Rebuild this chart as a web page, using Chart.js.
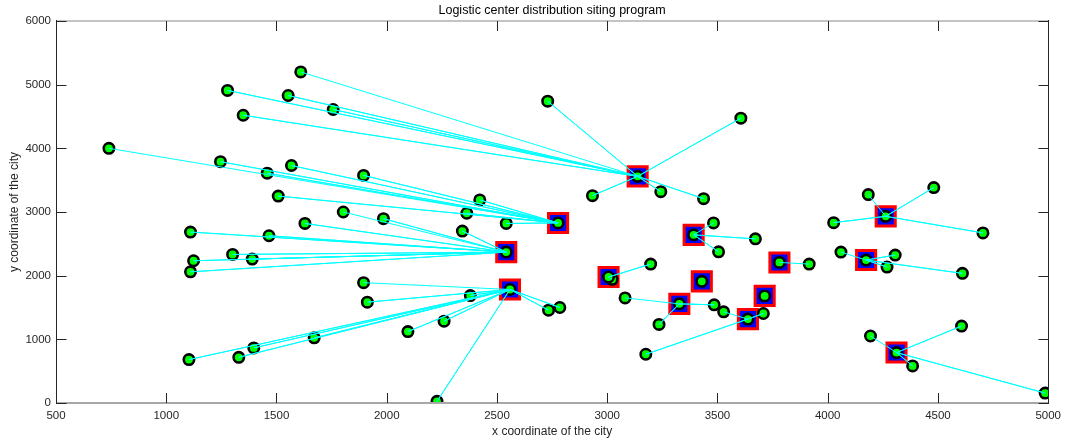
<!DOCTYPE html>
<html>
<head>
<meta charset="utf-8">
<script src="https://cdn.jsdelivr.net/npm/chart.js@4.4.1/dist/chart.umd.min.js"></script>
<style>
  html, body { margin: 0; padding: 0; background: #fff; }
  #wrap { width: 1067px; height: 441px; }
</style>
</head>
<body>
<div id="wrap"><canvas id="myChart" width="1067" height="441"></canvas></div>
<script>
// distribution centers (each one is also a city)
const centerX = [3138, 2777, 2542, 2559, 3392, 3006, 3429, 3781, 4263, 4174, 3714, 3327, 3638, 4312];
const centerY = [3560, 2828, 2370, 1783, 2641, 1979, 1911, 2208, 2932, 2245, 1682, 1557, 1318, 792];

// other cities and the center each one is assigned to
const cityX = [
    1610, 1278, 1553, 1757, 1349, 2730, 3606, 2933, 3243, 3437,
    740, 1246, 1458, 1568, 1895, 1508, 2422, 2363, 2542,
    1803, 1985, 1629, 1110, 1466, 2343, 1301, 1390, 1124, 1110,
    1895, 2379, 1912, 2260, 2096, 1671, 1397, 1329, 1103, 2228, 2734, 2785,
    3482, 3672, 3505,
    3022, 3197,
    3916,
    4184, 4481, 4027, 4704,
    4060, 4306, 4269, 4611,
    3081, 3485, 3235,
    3528, 3708, 3175,
    4194, 4607, 4385, 4986
];
const cityY = [
    5200, 4910, 4830, 4610, 4520, 4740, 4474, 3257, 3320, 3210,
    4000, 3790, 3610, 3730, 3575, 3250, 3190, 2980, 2820,
    3000, 2895, 2820, 2685, 2627, 2700, 2333, 2260, 2234, 2060,
    1890, 1688, 1584, 1285, 1122, 1023, 865, 718, 682, 26, 1458, 1500,
    2828, 2578, 2375,
    1943, 2182,
    2182,
    3273, 3383, 2833, 2672,
    2370, 2323, 2135, 2036,
    1651, 1542, 1234,
    1432, 1406, 766,
    1052, 1208, 583, 156
];
const cityCenter = [
    0, 0, 0, 0, 0, 0, 0, 0, 0, 0,
    1, 1, 1, 1, 1, 1, 1, 1, 1,
    2, 2, 2, 2, 2, 2, 2, 2, 2, 2,
    3, 3, 3, 3, 3, 3, 3, 3, 3, 3, 3, 3,
    4, 4, 4,
    5, 5,
    7,
    8, 8, 8, 8,
    9, 9, 9, 9,
    11, 11, 11,
    12, 12, 12,
    13, 13, 13, 13
];

const xTicks = [500, 1000, 1500, 2000, 2500, 3000, 3500, 4000, 4500, 5000];
const yTicks = [0, 1000, 2000, 3000, 4000, 5000, 6000];

const titleText = 'Logistic center distribution siting program';
const xTitle = 'x coordinate of the city';
const yTitle = 'y coordinate of the city';

const FONT = '"Liberation Sans", Arial, sans-serif';
const TEXT = '#262626';

document.addEventListener('DOMContentLoaded', () => {
    const ctx = document.getElementById('myChart').getContext('2d');

    // one line dataset per center: city, center, city, center ... gives the star
    const lineSets = centerX.map((cx, c) => {
        const pts = [];
        cityCenter.forEach((k, i) => {
            if (k === c) {
                pts.push({ x: cityX[i], y: cityY[i] });
                pts.push({ x: cx, y: centerY[c] });
            }
        });
        return {
            type: 'scatter',
            data: pts,
            showLine: true,
            borderColor: '#00ffff',
            borderWidth: 1,
            pointRadius: 0,
            order: 0
        };
    }).filter(d => d.data.length > 0);

    const allPoints = cityX.map((x, i) => ({ x: x, y: cityY[i] }))
        .concat(centerX.map((x, i) => ({ x: x, y: centerY[i] })));

    const datasets = [
        ...lineSets,
        {
            label: 'cities',
            data: allPoints,
            pointStyle: 'circle',
            pointRadius: 5.2,
            borderWidth: 2.6,
            borderColor: '#000000',
            backgroundColor: '#00ff00',
            order: 1
        },
        {
            label: 'centers',
            data: centerX.map((x, i) => ({ x: x, y: centerY[i] })),
            pointStyle: 'rect',
            pointRadius: 13.5,
            borderWidth: 3,
            borderColor: '#ff0000',
            backgroundColor: '#0000ff',
            order: 2
        }
    ];

    // box around the axes, inward ticks and the text
    const framePlugin = {
        id: 'frame',
        afterDraw(chart) {
            const { ctx, chartArea: a, scales } = chart;
            const L = Math.round(a.left) + 0.5, R = Math.round(a.right) + 0.5;
            const T = Math.round(a.top), B = Math.round(a.bottom);
            ctx.save();
            // top and bottom lines look light and thick
            ctx.fillStyle = '#c4c4c4';
            ctx.fillRect(L, T - 1, R - L, 2);
            ctx.fillStyle = '#a8a8a8';
            ctx.fillRect(L, B - 1, R - L, 2);
            ctx.strokeStyle = TEXT;
            ctx.lineWidth = 1;
            ctx.beginPath();
            ctx.moveTo(L, T - 1); ctx.lineTo(L, B + 1);
            ctx.moveTo(R, T - 1); ctx.lineTo(R, B + 1);
            xTicks.forEach(v => {
                const px = Math.round(scales.x.getPixelForValue(v)) + 0.5;
                ctx.moveTo(px, B); ctx.lineTo(px, B - 10);
                ctx.moveTo(px, T); ctx.lineTo(px, T + 10);
            });
            yTicks.forEach(v => {
                const py = Math.round(scales.y.getPixelForValue(v)) + 0.5;
                ctx.moveTo(L, py); ctx.lineTo(L + 10, py);
                ctx.moveTo(R, py); ctx.lineTo(R - 10, py);
            });
            ctx.stroke();

            ctx.fillStyle = '#000000';
            ctx.font = '12.5px ' + FONT;
            ctx.textAlign = 'center';
            ctx.textBaseline = 'middle';
            ctx.fillText(titleText, (a.left + a.right) / 2, 11);
            ctx.fillStyle = TEXT;
            ctx.font = '12px ' + FONT;
            ctx.fillText(xTitle, (a.left + a.right) / 2, 432);
            ctx.translate(15, (a.top + a.bottom) / 2);
            ctx.rotate(-Math.PI / 2);
            ctx.fillText(yTitle, 0, 0);
            ctx.restore();
        }
    };

    const tickFont = { family: FONT, size: 11.5 };

    const options = {
        responsive: false,
        animation: false,
        layout: { padding: { left: 0, top: 21, right: 15, bottom: 0 } },
        plugins: {
            legend: { display: false },
            title: { display: false },
            tooltip: { enabled: false }
        },
        scales: {
            x: {
                type: 'linear',
                min: 500,
                max: 5000,
                afterFit: s => { s.height = 38; },
                afterBuildTicks: s => { s.ticks = xTicks.map(v => ({ value: v })); },
                grid: { display: false, drawTicks: false },
                border: { display: false },
                ticks: {
                    color: TEXT,
                    font: tickFont,
                    padding: 6,
                    maxRotation: 0,
                    autoSkip: false,
                    callback: v => String(v)
                }
            },
            y: {
                type: 'linear',
                min: 0,
                max: 6000,
                afterFit: s => { s.width = 56; },
                afterBuildTicks: s => { s.ticks = yTicks.map(v => ({ value: v })); },
                grid: { display: false, drawTicks: false },
                border: { display: false },
                ticks: {
                    color: TEXT,
                    font: tickFont,
                    padding: 5,
                    autoSkip: false,
                    callback: v => String(v)
                }
            }
        }
    };

    new Chart(ctx, {
        type: 'scatter',
        data: { datasets: datasets },
        options: options,
        plugins: [framePlugin]
    });
});
</script>
</body>
</html>
